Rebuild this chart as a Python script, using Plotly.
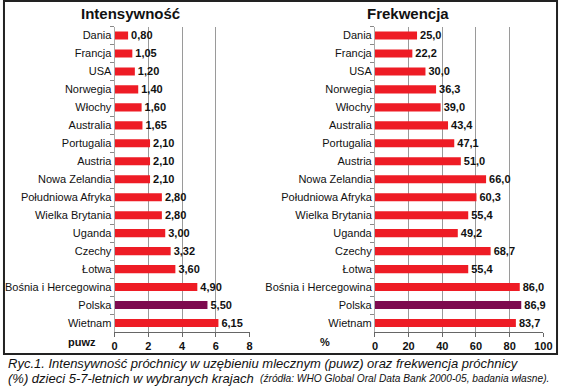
import plotly.graph_objects as go

countries = ["Dania", "Francja", "USA", "Norwegia", "Włochy", "Australia", "Portugalia",
             "Austria", "Nowa Zelandia", "Południowa Afryka", "Wielka Brytania", "Uganda",
             "Czechy", "Łotwa", "Bośnia i Hercegowina", "Polska", "Wietnam"]
intensity = [0.80, 1.05, 1.20, 1.40, 1.60, 1.65, 2.10, 2.10, 2.10, 2.80, 2.80, 3.00,
             3.32, 3.60, 4.90, 5.50, 6.15]
frequency = [25.0, 22.2, 30.0, 36.3, 39.0, 43.4, 47.1, 51.0, 66.0, 60.3, 55.4, 49.2,
             68.7, 55.4, 86.0, 86.9, 83.7]
left_ticks = [0, 2, 4, 6, 8]
right_ticks = [0, 20, 40, 60, 80, 100]
title_left = "Intensywność"
title_right = "Frekwencja"
unit_left = "puwz"
unit_right = "%"
caption1 = "Ryc.1. Intensywność próchnicy w uzębieniu mlecznym (puwz) oraz frekwencja próchnicy"
caption2a = "(%) dzieci 5-7-letnich w wybranych krajach"
caption2b = "(źródła: WHO Global Oral Data Bank 2000-05, badania własne)."
highlight = "Polska"

W, H = 567, 391
RED = "#ee1c25"
PURPLE = "#7d0a4f"
FONT = "Liberation Sans, Arial, sans-serif"

def px(x):
    return x / W

def py(y):
    return 1 - y / H

colors = [PURPLE if c == highlight else RED for c in countries]

fig = go.Figure()
fig.add_trace(go.Bar(
    y=countries, x=intensity, orientation="h", marker=dict(color=colors, line=dict(width=0)),
    text=[f"{v:.2f}".replace(".", ",") for v in intensity], textposition="outside",
    constraintext="none",
    textfont=dict(family=FONT, size=11, color="#111", weight="bold"), cliponaxis=False,
    xaxis="x", yaxis="y", hoverinfo="skip"))
fig.add_trace(go.Bar(
    y=countries, x=frequency, orientation="h", marker=dict(color=colors, line=dict(width=0)),
    text=[f"{v:.1f}".replace(".", ",") for v in frequency], textposition="outside",
    constraintext="none",
    textfont=dict(family=FONT, size=11, color="#111", weight="bold"), cliponaxis=False,
    xaxis="x2", yaxis="y2", hoverinfo="skip"))

ydom = [py(332), py(26.5)]
xcommon = dict(showgrid=True, gridcolor="#9a9a9a", gridwidth=1, zeroline=False,
               showline=True, linecolor="#666", linewidth=1, ticks="outside", ticklen=4,
               tickcolor="#666", tickfont=dict(family=FONT, size=11, color="#111", weight="bold"),
               fixedrange=True)
ycommon = dict(type="category", categoryorder="array", categoryarray=countries,
               range=[len(countries) - 0.5, -0.5], showgrid=False, zeroline=False,
               showline=True, linecolor="#aaa", linewidth=1, ticks="outside", ticklen=4,
               tickcolor="#888", tickson="boundaries",
               tickfont=dict(family=FONT, size=11, color="#111"), fixedrange=True)

fig.update_layout(
    width=W, height=H, autosize=False,
    margin=dict(l=0, r=0, t=0, b=0),
    paper_bgcolor="white", plot_bgcolor="white",
    showlegend=False, bargap=0.55,
    font=dict(family=FONT),
    xaxis=dict(domain=[px(114), px(252)], range=[0, 8], tickvals=left_ticks, anchor="y", **xcommon),
    yaxis=dict(domain=ydom, anchor="x", **ycommon),
    xaxis2=dict(domain=[px(380), px(552)], range=[0, 100], tickvals=right_ticks, anchor="y2", **xcommon),
    yaxis2=dict(domain=ydom, anchor="x2", **ycommon),
)

ann = [
    dict(text=title_left, x=px(130), y=py(13), font=dict(size=15, weight="bold")),
    dict(text=title_right, x=px(414), y=py(13), font=dict(size=15, weight="bold")),
    dict(text=unit_left, x=px(97), y=py(342), xanchor="right", font=dict(size=11, weight="bold")),
    dict(text=unit_right, x=px(336), y=py(342), xanchor="right", font=dict(size=11, weight="bold")),
    dict(text=caption1, x=px(3), y=py(363), xanchor="left", font=dict(size=13, style="italic")),
    dict(text=caption2a, x=px(3), y=py(378.5), xanchor="left", font=dict(size=13, style="italic")),
    dict(text=caption2b, x=px(560), y=py(378.5), xanchor="right",
         font=dict(size=10.2, style="italic")),
]
for a in ann:
    a.setdefault("xanchor", "center")
    a.update(xref="paper", yref="paper", yanchor="middle", showarrow=False)
    f = dict(family=FONT, color="#111")
    f.update(a["font"])
    a["font"] = f
fig.update_layout(annotations=ann)

fig.add_shape(type="rect", xref="paper", yref="paper", x0=px(1), x1=px(566), y0=py(354), y1=py(1),
              line=dict(color="#222", width=2), fillcolor="rgba(0,0,0,0)")

fig.write_html("out.html", config={"displayModeBar": False},
               post_script="document.body.style.margin='0';document.body.style.overflow='hidden';")
